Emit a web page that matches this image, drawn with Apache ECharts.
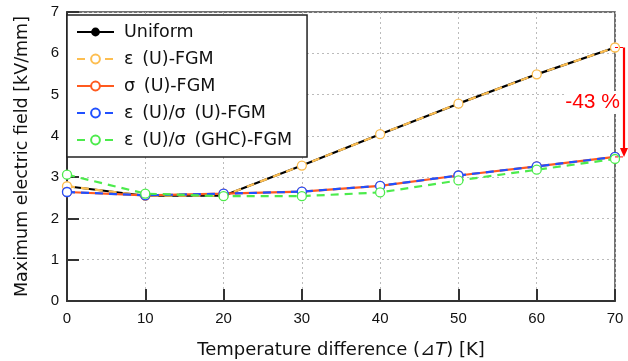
<!DOCTYPE html>
<html>
<head>
<meta charset="utf-8">
<script src="https://cdn.jsdelivr.net/npm/echarts@6/dist/echarts.min.js"></script>
<style>
  html, body { margin: 0; padding: 0; background: #fff; }
  #chart { width: 628px; height: 361px; }
</style>
</head>
<body>
<div id="chart"></div>
<script>
const deltaT = [0, 10, 20, 30, 40, 50, 60, 70];
const uniform = [2.78, 2.55, 2.55, 3.28, 4.04, 4.78, 5.49, 6.14];
const epsU = [2.78, 2.55, 2.55, 3.28, 4.04, 4.78, 5.49, 6.14];
const sigU = [2.64, 2.56, 2.60, 2.65, 2.79, 3.04, 3.26, 3.49];
const epsSigU = [2.64, 2.56, 2.60, 2.65, 2.79, 3.04, 3.26, 3.49];
const epsSigGHC = [3.06, 2.60, 2.54, 2.54, 2.63, 2.92, 3.18, 3.44];
const names = ['Uniform', 'ε\u2002(U)-FGM', 'σ\u2002(U)-FGM', 'ε\u2002(U)/σ\u2002(U)-FGM', 'ε\u2002(U)/σ\u2002(GHC)-FGM'];
const reduction = '-43 %';

const font = 'Liberation Sans';
const titleFont = 'DejaVu Sans';
const chart = echarts.init(document.getElementById('chart'));

function pairs(vals) {
  return deltaT.map((x, i) => [x, vals[i]]);
}

function lineSeries(name, vals, color, dashed, opts) {
  return Object.assign({
    name: name,
    type: 'line',
    data: pairs(vals),
    symbol: 'circle',
    symbolSize: 9,
    itemStyle: { color: '#fff', borderColor: color, borderWidth: 1.3 },
    lineStyle: { color: color, width: 2.2, type: dashed ? [8, 6] : 'solid' },
    emphasis: { disabled: true },
    animation: false
  }, opts || {});
}

chart.setOption({
  animation: false,
  grid: {
    left: 67, right: 13, top: 12, bottom: 60,
    outerBoundsMode: 'none',
    show: true, borderColor: '#444', borderWidth: 1.5
  },
  legend: {
    left: 67, top: 15,
    orient: 'vertical',
    itemWidth: 37, itemHeight: 11, itemGap: 9,
    padding: [8, 15, 8, 9],
    backgroundColor: '#fff',
    borderColor: '#222', borderWidth: 1.5, borderRadius: 0,
    textStyle: { fontFamily: titleFont, fontSize: 17.5, lineHeight: 16, color: '#111', padding: [0, 0, 0, 5] },
    data: names
  },
  xAxis: {
    type: 'value', min: 0, max: 70, interval: 10,
    name: 'Temperature difference ({i|⊿T}) [K]',
    nameLocation: 'middle', nameGap: 40,
    nameTextStyle: {
      fontFamily: titleFont, fontSize: 18, color: '#111',
      rich: { i: { fontFamily: titleFont, fontSize: 18, fontStyle: 'italic', color: '#111' } }
    },
    axisLine: { lineStyle: { color: '#333', width: 2 } },
    axisTick: { inside: true, length: 12, lineStyle: { color: '#333', width: 2 } },
    axisLabel: { fontFamily: font, fontSize: 15, color: '#111', margin: 10 },
    splitLine: { show: true, lineStyle: { color: '#bbb', type: [2, 3], width: 1 } }
  },
  yAxis: {
    type: 'value', min: 0, max: 7, interval: 1,
    name: 'Maximum electric field [kV/mm]',
    nameLocation: 'middle', nameGap: 36,
    nameTextStyle: { fontFamily: titleFont, fontSize: 17.5, color: '#111' },
    axisLine: { show: true, lineStyle: { color: '#333', width: 2 } },
    axisTick: { show: true, inside: true, length: 12, lineStyle: { color: '#333', width: 2 } },
    axisLabel: { fontFamily: font, fontSize: 15, color: '#111', margin: 8 },
    splitLine: { show: true, lineStyle: { color: '#bbb', type: [2, 3], width: 1 } }
  },
  series: [
    lineSeries(names[0], uniform, '#000', false, {
      itemStyle: { color: '#000', borderColor: '#000' },
      symbolSize: 8, z: 1
    }),
    lineSeries(names[1], epsU, '#FDBE50', true, { z: 2 }),
    lineSeries(names[2], sigU, '#FF5A1F', false, { z: 3 }),
    lineSeries(names[3], epsSigU, '#2050FF', true, { z: 4 }),
    lineSeries(names[4], epsSigGHC, '#4CEB4C', true, { z: 5 })
  ]
});

// reduction arrow at the last temperature, placed from the data positions
const last = deltaT.length - 1;
const pTop = chart.convertToPixel({ gridIndex: 0 }, [deltaT[last], epsU[last]]);
const pBot = chart.convertToPixel({ gridIndex: 0 }, [deltaT[last], epsSigU[last]]);
const ax = pTop[0] + 9;
chart.setOption({
  graphic: [
    {
      type: 'line', z: 90, silent: true,
      shape: { x1: pTop[0], y1: pTop[1], x2: ax, y2: pTop[1] },
      style: { stroke: '#f00', lineWidth: 1, lineDash: [3, 2] }
    },
    {
      type: 'line', z: 90, silent: true,
      shape: { x1: pBot[0], y1: pBot[1], x2: ax, y2: pBot[1] },
      style: { stroke: '#f00', lineWidth: 1, lineDash: [3, 2] }
    },
    {
      type: 'line', z: 90, silent: true,
      shape: { x1: ax, y1: pTop[1], x2: ax, y2: pBot[1] - 8 },
      style: { stroke: '#f00', lineWidth: 2.2 }
    },
    {
      type: 'polygon', z: 90, silent: true,
      shape: { points: [[ax - 4, pBot[1] - 9], [ax + 4, pBot[1] - 9], [ax, pBot[1]]] },
      style: { fill: '#f00' }
    },
    {
      type: 'text', z: 100, silent: true,
      right: 7, top: 91,
      style: {
        text: reduction,
        fill: '#f00',
        font: '21px "Liberation Sans"',
        backgroundColor: '#fff',
        padding: [1, 1]
      }
    }
  ]
});
</script>
</body>
</html>
